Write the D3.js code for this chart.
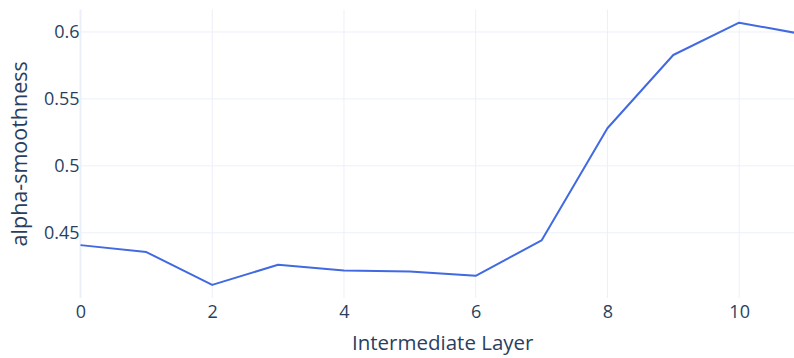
<!DOCTYPE html>
<html>
<head>
<meta charset="utf-8">
<script src="https://cdn.jsdelivr.net/npm/d3@7"></script>
<style>
  html, body { margin: 0; padding: 0; background: #fff; overflow: hidden; }
  svg { display: block; font-family: "Open Sans", "Noto Sans", sans-serif; }
</style>
</head>
<body>
<svg id="chart" width="794" height="358"></svg>
<script>
// Layer index along the x axis and the measured alpha-smoothness per layer
const layers = [0, 1, 2, 3, 4, 5, 6, 7, 8, 9, 10, 11];
const smoothness = [0.4408, 0.4356, 0.4111, 0.4261, 0.4219, 0.4211, 0.4179, 0.4443, 0.5281, 0.5828, 0.6069, 0.598];
const xTicks = [0, 2, 4, 6, 8, 10];
const yTicks = [0.45, 0.5, 0.55, 0.6];
const xTitle = "Intermediate Layer";
const yTitle = "alpha-smoothness";

const svg = d3.select("#chart");
const margin = { left: 80.5, right: -11, top: 9.6, bottom: 60 };
const W = 794, H = 358;

// y range padded 5% around the data extent
const [lo, hi] = d3.extent(smoothness);
const pad = (hi - lo) * 0.05;

const x = d3.scaleLinear().domain([0, 11]).range([margin.left, W - margin.right]);
const y = d3.scaleLinear().domain([lo - pad, hi + pad]).range([H - margin.bottom, margin.top]);

const gridColor = "#ebf0f8";
const textColor = "#2a3f5f";

// vertical grid lines
svg.append("g")
  .selectAll("line")
  .data(xTicks)
  .join("line")
  .attr("x1", d => x(d)).attr("x2", d => x(d))
  .attr("y1", y.range()[1]).attr("y2", y.range()[0])
  .attr("stroke", gridColor)
  .attr("stroke-width", d => d === 0 ? 2 : 1);

// horizontal grid lines
svg.append("g")
  .selectAll("line")
  .data(yTicks)
  .join("line")
  .attr("x1", x.range()[0]).attr("x2", x.range()[1])
  .attr("y1", d => y(d)).attr("y2", d => y(d))
  .attr("stroke", gridColor)
  .attr("stroke-width", 1);

// x axis tick labels
const xAxis = d3.axisBottom(x).tickValues(xTicks).tickFormat(d3.format("d")).tickSize(0).tickPadding(7);
const gx = svg.append("g").attr("transform", `translate(0,${y.range()[0]})`).call(xAxis);
gx.select(".domain").remove();
gx.selectAll("text").attr("font-size", 18).attr("fill", textColor).attr("font-family", "'Open Sans', sans-serif");

// y axis tick labels
const yAxis = d3.axisLeft(y).tickValues(yTicks).tickFormat(d => String(+d.toFixed(2))).tickSize(0).tickPadding(1);
const gy = svg.append("g").attr("transform", `translate(${x.range()[0]},0)`).call(yAxis);
gy.select(".domain").remove();
gy.selectAll("text").attr("font-size", 18).attr("fill", textColor).attr("font-family", "'Open Sans', sans-serif");

// data line
const line = d3.line().x((d, i) => x(layers[i])).y(d => y(d));
svg.append("path")
  .datum(smoothness)
  .attr("d", line)
  .attr("fill", "none")
  .attr("stroke", "#4169e1")
  .attr("stroke-width", 2)
  .attr("stroke-linejoin", "round");

// axis titles
svg.append("text")
  .attr("x", (x.range()[0] + x.range()[1]) / 2)
  .attr("y", 350)
  .attr("text-anchor", "middle")
  .attr("font-size", 20.5)
  .attr("fill", textColor)
  .text(xTitle);

svg.append("text")
  .attr("transform", `translate(27,${(y.range()[0] + y.range()[1]) / 2}) rotate(-90)`)
  .attr("text-anchor", "middle")
  .attr("font-size", 21.5)
  .attr("fill", textColor)
  .text(yTitle);
</script>
</body>
</html>
